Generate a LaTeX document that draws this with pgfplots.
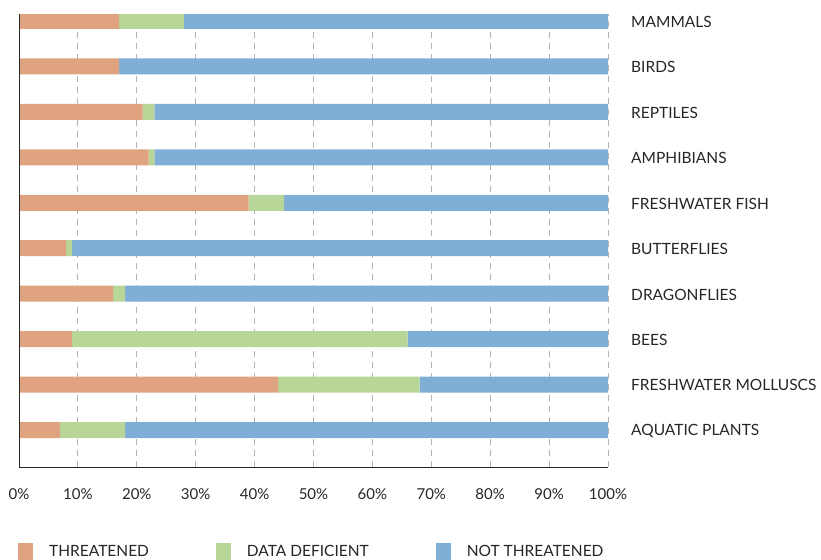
\documentclass[border=0pt]{standalone}
\usepackage{fontspec}
\setmainfont{Lato}
\usepackage{pgfplots}
\usepackage{pgfplotstable}
\pgfplotsset{compat=1.18}
\definecolor{thr}{RGB}{223,163,127}
\definecolor{dd}{RGB}{185,214,153}
\definecolor{nt}{RGB}{127,174,214}
\definecolor{gridc}{RGB}{180,180,180}
% i: 9 = MAMMALS (top) ... 0 = AQUATIC PLANTS (bottom)
\pgfplotstableread{
i t d n
9 17 11 72
8 17 0 83
7 21 2 77
6 22 1 77
5 39 6 55
4 8 1 91
3 16 2 82
2 9 57 34
1 44 24 32
0 7 11 82
}\data
\begin{document}
\begin{tikzpicture}
\begin{axis}[
  name=main,
  at={(19pt,-467pt)}, anchor=south west, scale only axis,
  width=589pt, height=453pt,
  xbar stacked, bar width=16pt,
  xmin=0, xmax=100, ymin=-0.814, ymax=9.154,
  xtick={0,10,...,100},
  xticklabels={0\%,10\%,20\%,30\%,40\%,50\%,60\%,70\%,80\%,90\%,100\%},
  xticklabel style={anchor=north, inner sep=0pt, yshift=-21pt, font=\fontsize{15}{18}\selectfont, text=black!85},
  xmajorgrids,
  grid style={gridc, line width=0.9pt, dash pattern=on 6pt off 5pt},
  ytick={0,...,9},
  yticklabels={AQUATIC PLANTS,FRESHWATER MOLLUSCS,BEES,DRAGONFLIES,BUTTERFLIES,FRESHWATER FISH,AMPHIBIANS,REPTILES,BIRDS,MAMMALS},
  yticklabel pos=right,
  yticklabel style={anchor=west, inner sep=0pt, xshift=23pt, yshift=-0.8pt, font=\fontsize{15.5}{18}\selectfont, text=black!85},
  major tick length=0pt,
  axis line style={draw=none},
  legend columns=3,
  legend style={at={(-0.0017,-0.1870)}, anchor=west, draw=none, fill=none,
    inner sep=0pt, font=\fontsize{15.5}{18}\selectfont, text=black!85,
    /tikz/every odd column/.style={column sep=16pt},
    /tikz/every even column/.style={column sep=67pt},
    nodes={inner sep=0pt}},
  legend image code/.code={\path[#1,draw=none] (0pt,-9pt) rectangle (15pt,8.5pt);},
]
\addplot[fill=thr, draw=none] table[x=t, y=i] {\data};
\addlegendentry{THREATENED}
\addplot[fill=dd, draw=none] table[x=d, y=i] {\data};
\addlegendentry{DATA DEFICIENT}
\addplot[fill=nt, draw=none] table[x=n, y=i] {\data};
\addlegendentry{NOT THREATENED}
\end{axis}
\draw[black!85, line width=1pt] (main.north west) -- (main.south west) -- (main.south east);
\pgfresetboundingbox
\useasboundingbox (0,0) rectangle (821pt,-559pt);
\end{tikzpicture}
\end{document}
